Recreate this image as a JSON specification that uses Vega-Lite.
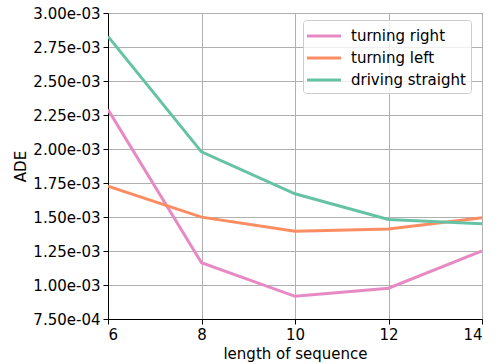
{
  "$schema": "https://vega.github.io/schema/vega-lite/v6.json",
  "width": 374,
  "height": 306,
  "autosize": {"type": "none"},
  "padding": {"left": 108, "top": 13, "right": 16, "bottom": 45},
  "data": {
    "values": [
      {"length": 6, "ADE": 0.00229, "series": "turning right"},
      {"length": 8, "ADE": 0.001164, "series": "turning right"},
      {"length": 10, "ADE": 0.000917, "series": "turning right"},
      {"length": 12, "ADE": 0.000976, "series": "turning right"},
      {"length": 14, "ADE": 0.00125, "series": "turning right"},
      {"length": 6, "ADE": 0.001727, "series": "turning left"},
      {"length": 8, "ADE": 0.001499, "series": "turning left"},
      {"length": 10, "ADE": 0.001396, "series": "turning left"},
      {"length": 12, "ADE": 0.001411, "series": "turning left"},
      {"length": 14, "ADE": 0.001495, "series": "turning left"},
      {"length": 6, "ADE": 0.002828, "series": "driving straight"},
      {"length": 8, "ADE": 0.001979, "series": "driving straight"},
      {"length": 10, "ADE": 0.001671, "series": "driving straight"},
      {"length": 12, "ADE": 0.001482, "series": "driving straight"},
      {"length": 14, "ADE": 0.00145, "series": "driving straight"}
    ]
  },
  "mark": {"type": "line", "strokeWidth": 3, "clip": true},
  "encoding": {
    "x": {
      "field": "length",
      "type": "quantitative",
      "scale": {"domain": [6, 14], "nice": false, "zero": false},
      "axis": {"values": [6, 8, 10, 12, 14], "title": "length of sequence"}
    },
    "y": {
      "field": "ADE",
      "type": "quantitative",
      "scale": {"domain": [0.00075, 0.003], "nice": false, "zero": false},
      "axis": {
        "values": [0.00075, 0.001, 0.00125, 0.0015, 0.00175, 0.002, 0.00225, 0.0025, 0.00275, 0.003],
        "labelExpr": "datum.value < 0.00099 ? format(datum.value * 10000, '.2f') + 'e-04' : format(datum.value * 1000, '.2f') + 'e-03'",
        "title": "ADE"
      }
    },
    "color": {
      "field": "series",
      "type": "nominal",
      "scale": {
        "domain": ["turning right", "turning left", "driving straight"],
        "range": ["#e78ac3", "#fc8d62", "#66c2a5"]
      },
      "legend": {
        "title": null,
        "orient": "none",
        "legendX": 195,
        "legendY": 7,
        "fillColor": "rgba(255,255,255,0.8)",
        "strokeColor": "#cccccc",
        "cornerRadius": 3,
        "padding": 5,
        "symbolType": "M-1.79,0H1.79",
        "symbolStrokeWidth": 3,
        "symbolSize": 361,
        "symbolOffset": 5,
        "labelFontSize": 15,
        "labelFont": "DejaVu Sans",
        "labelColor": "black",
        "rowPadding": 3,
        "labelOffset": 16
      }
    }
  },
  "config": {
    "view": {"stroke": "black", "strokeWidth": 1},
    "axis": {
      "labelFont": "DejaVu Sans",
      "labelFontSize": 15,
      "labelColor": "black",
      "titleFont": "DejaVu Sans",
      "titleFontSize": 15,
      "titleFontWeight": "normal",
      "titleColor": "black",
      "tickColor": "black",
      "tickSize": 5,
      "domainColor": "black",
      "gridColor": "#b0b0b0",
      "gridWidth": 1,
      "labelPadding": 3,
      "titlePadding": 4
    }
  }
}
